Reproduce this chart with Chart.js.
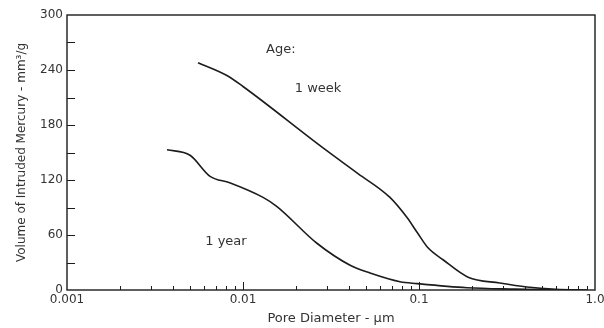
<!DOCTYPE html>
<html>
<head>
<meta charset="utf-8">
<script src="https://cdn.jsdelivr.net/npm/chart.js@4.4.1/dist/chart.umd.min.js"></script>
<style>
  html, body { margin: 0; padding: 0; background: #fff; }
  #wrap { width: 604px; height: 328px; position: relative; }
</style>
</head>
<body>
<div id="wrap"><canvas id="c" width="604" height="328"></canvas></div>
<script>
// ---- data ----
const weekX = [0.00555, 0.0081, 0.01, 0.0285, 0.045, 0.0684, 0.0855, 0.0975, 0.1125, 0.137, 0.19, 0.288, 0.41, 0.6, 0.9];
const weekY = [248, 234, 222, 155, 127, 101, 79, 63, 46, 33, 14, 7.6, 3.3, 0.8, 0];
const yearX = [0.0037, 0.005, 0.0065, 0.0084, 0.013, 0.0156, 0.0263, 0.0406, 0.0527, 0.078, 0.0975, 0.187, 0.35, 0.7];
const yearY = [153, 147, 124, 117, 101, 91, 51, 27, 18.5, 9, 7, 2.5, 1, 0];

const xTickValues = [0.001, 0.01, 0.1, 1];
const xTickLabels = ['0.001', '0.01', '0.1', '1.0'];
const yTickValues = [0, 60, 120, 180, 240, 300];
const yMinorValues = [30, 90, 150, 210, 270];

const xTitle = 'Pore Diameter - \u00b5m';
const yTitle = 'Volume of Intruded Mercury - mm\u00b3/g';

const noteTexts = ['Age:', '1 week', '1 year'];
const noteX = [0.0164, 0.0267, 0.0080];
const noteY = [262, 220, 52.4];

const FONT = "'DejaVu Sans', 'Liberation Sans', Arial, sans-serif";
const INK = '#1c1c1c';
const TXT = '#333333';

const toPts = (xs, ys) => xs.map((x, i) => ({ x, y: ys[i] }));

const decorate = {
  id: 'decorate',
  afterDraw(chart) {
    const { ctx, chartArea: a, scales: { x, y } } = chart;
    ctx.save();
    ctx.strokeStyle = INK;
    ctx.lineWidth = 1.4;
    ctx.strokeRect(a.left, a.top, a.right - a.left, a.bottom - a.top);
    ctx.lineWidth = 1;
    ctx.beginPath();
    // y ticks (inward)
    yTickValues.concat(yMinorValues).forEach(v => {
      if (v === 0 || v === 300) return;
      const py = Math.round(y.getPixelForValue(v)) + 0.5;
      ctx.moveTo(a.left, py); ctx.lineTo(a.left + 8, py);
    });
    // x ticks (inward)
    [0.001, 0.01, 0.1].forEach(d => {
      for (let k = 1; k <= 9; k++) {
        const v = d * k;
        if (v === 0.001) continue;
        const px = Math.round(x.getPixelForValue(v)) + 0.5;
        const len = k === 1 ? 8 : 4;
        ctx.moveTo(px, a.bottom); ctx.lineTo(px, a.bottom - len);
      }
    });
    ctx.stroke();
    // annotations
    ctx.fillStyle = TXT;
    ctx.font = '13px ' + FONT;
    ctx.textAlign = 'center';
    ctx.textBaseline = 'middle';
    noteTexts.forEach((t, i) => {
      ctx.fillText(t, x.getPixelForValue(noteX[i]), y.getPixelForValue(noteY[i]));
    });
    ctx.restore();
  }
};

new Chart(document.getElementById('c'), {
  type: 'line',
  data: {
    datasets: [
      { label: '1 week', data: toPts(weekX, weekY) },
      { label: '1 year', data: toPts(yearX, yearY) }
    ]
  },
  options: {
    responsive: false,
    animation: false,
    layout: { padding: { top: 15, right: 9, left: 0, bottom: 0 } },
    elements: {
      point: { radius: 0 },
      line: { borderColor: INK, borderWidth: 1.6, cubicInterpolationMode: 'monotone', fill: false }
    },
    plugins: { legend: { display: false }, tooltip: { enabled: false } },
    scales: {
      x: {
        type: 'logarithmic',
        min: 0.001, max: 1,
        grid: { display: false, drawTicks: false },
        border: { display: false },
        afterBuildTicks: s => { s.ticks = xTickValues.map(v => ({ value: v })); },
        ticks: {
          autoSkip: false, maxRotation: 0, padding: 3,
          color: TXT, font: { family: FONT, size: 12 },
          callback: (v) => { const i = xTickValues.indexOf(v); return i >= 0 ? xTickLabels[i] : ''; }
        },
        title: { display: true, text: xTitle, color: TXT, font: { family: FONT, size: 13 }, padding: { top: 0, bottom: 2 } },
        afterFit: s => { s.height = 38; s.paddingLeft = 0; s.paddingRight = 0; }
      },
      y: {
        min: 0, max: 300,
        grid: { display: false, drawTicks: false },
        border: { display: false },
        afterBuildTicks: s => { s.ticks = yTickValues.map(v => ({ value: v })); },
        ticks: { padding: 4, color: TXT, font: { family: FONT, size: 12 } },
        title: { display: true, text: yTitle, color: TXT, font: { family: FONT, size: 12 }, padding: { top: 15, bottom: 0 } },
        afterFit: s => { s.width = 67; s.paddingTop = 0; s.paddingBottom = 0; }
      }
    }
  },
  plugins: [decorate]
});
</script>
</body>
</html>
